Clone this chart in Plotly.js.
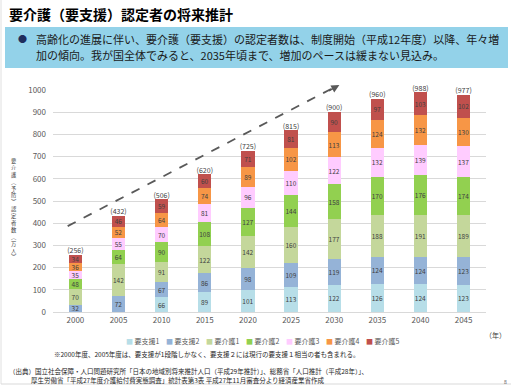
<!DOCTYPE html>
<html>
<head>
<meta charset="utf-8">
<script src="https://cdn.plot.ly/plotly-3.0.1.min.js"></script>
<style>html,body{margin:0;padding:0;background:#fff;}#chart{width:512px;height:386px;}</style>
</head>
<body>
<div id="chart"></div>
<script>
// ---- data ----
const years = [2000, 2005, 2010, 2015, 2020, 2025, 2030, 2035, 2040, 2045];
const seriesNames = ["要支援1", "要支援2", "要介護1", "要介護2", "要介護3", "要介護4", "要介護5"];
const shien1  = [null, null, 66, 89, 101, 113, 122, 126, 124, 123];
const shien2  = [32, 72, 67, 86, 98, 109, 119, 124, 124, 123];
const kaigo1  = [70, 142, 91, 122, 142, 160, 177, 188, 191, 189];
const kaigo2  = [48, 64, 90, 108, 127, 144, 158, 170, 176, 174];
const kaigo3  = [35, 55, 70, 81, 96, 110, 122, 132, 139, 137];
const kaigo4  = [36, 52, 64, 74, 89, 102, 113, 124, 132, 130];
const kaigo5  = [34, 46, 59, 60, 71, 81, 90, 97, 103, 102];
const totals  = [256, 432, 506, 620, 725, 815, 900, 960, 988, 977];
const seriesValues = [shien1, shien2, kaigo1, kaigo2, kaigo3, kaigo4, kaigo5];
const colors = ["#b7dee8", "#95b3d7", "#c4d79b", "#92d050", "#ffccff", "#f79646", "#c0504d"];

const titleText = "要介護（要支援）認定者の将来推計";
const bulletLine1 = "高齢化の進展に伴い、要介護（要支援）の認定者数は、制度開始（平成12年度）以降、年々増";
const bulletLine2 = "加の傾向。我が国全体でみると、2035年頃まで、増加のペースは緩まない見込み。";
const yTitleChars = ["要","介","護","︵","予","防","︶","認","定","者","数","︵","万","人","︶"];
const noteText = "※2000年度、2005年度は、要支援が1段階しかなく、要支援２には現行の要支援１相当の者も含まれる。";
const source1 = "（出典）国立社会保障・人口問題研究所「日本の地域別将来推計人口（平成29年推計）」、総務省「人口推計（平成28年）」、";
const source2 = "厚生労働省「平成27年度介護給付費実態調査」統計表第3表 平成27年11月審査分より経済産業省作成";

// ---- layout helpers ----
const FONT = '"Noto Sans CJK JP", "Noto Sans", sans-serif';
const L = 53, R = 26, T = 90, B = 74, W = 512, H = 386;
const PW = W - L - R, PH = H - T - B;
const px = v => (v - L) / PW;
const py = v => (H - B - v) / PH;

const traces = seriesValues.map((vals, i) => ({
  type: 'bar',
  name: seriesNames[i],
  x: years,
  y: vals,
  width: 1.55,
  marker: {color: colors[i]},
  text: vals.map(v => v == null ? '' : String(v)),
  textposition: 'inside',
  insidetextanchor: 'middle',
  textangle: 0,
  textfont: {size: 6.5, color: '#404040', family: FONT},
  hoverinfo: 'skip',
  showlegend: false
}));

traces.push({
  type: 'scatter',
  mode: 'text',
  x: years,
  y: totals,
  text: totals.map(t => '(' + t + ')'),
  textposition: 'top center',
  textfont: {size: 7, color: '#404040', family: FONT},
  hoverinfo: 'skip',
  showlegend: false,
  cliponaxis: false
});

const annotations = [
  {xref: 'paper', yref: 'paper', x: px(7), y: py(14), xanchor: 'left', yanchor: 'middle',
   text: '<b>' + titleText + '</b>', showarrow: false, font: {size: 14, color: '#000', family: FONT}},
  {xref: 'paper', yref: 'paper', x: px(22), y: py(39), xanchor: 'center', yanchor: 'middle',
   text: '●', showarrow: false, font: {size: 9, color: '#1f2d5c', family: FONT}},
  {xref: 'paper', yref: 'paper', x: px(34), y: py(39), xanchor: 'left', yanchor: 'middle',
   text: bulletLine1, showarrow: false, font: {size: 11, color: '#1a1a1a', family: FONT}},
  {xref: 'paper', yref: 'paper', x: px(34), y: py(55), xanchor: 'left', yanchor: 'middle',
   text: bulletLine2, showarrow: false, font: {size: 11, color: '#1a1a1a', family: FONT}},
  {xref: 'paper', yref: 'paper', x: px(495), y: py(335), xanchor: 'center', yanchor: 'middle',
   text: '（年）', showarrow: false, font: {size: 7, color: '#404040', family: FONT}},
  {xref: 'paper', yref: 'paper', x: px(52), y: py(354), xanchor: 'left', yanchor: 'middle',
   text: noteText, showarrow: false, font: {size: 6.5, color: '#262626', family: FONT}},
  {xref: 'paper', yref: 'paper', x: px(7), y: py(371), xanchor: 'left', yanchor: 'middle',
   text: source1, showarrow: false, font: {size: 6.5, color: '#262626', family: FONT}},
  {xref: 'paper', yref: 'paper', x: px(29), y: py(380), xanchor: 'left', yanchor: 'middle',
   text: source2, showarrow: false, font: {size: 6.5, color: '#262626', family: FONT}},
  {xref: 'paper', yref: 'paper', x: px(505), y: py(381), xanchor: 'center', yanchor: 'middle',
   text: '8', showarrow: false, font: {size: 5, color: '#404040', family: FONT}},
  // vertical y-axis title (upright characters stacked)
  {xref: 'paper', yref: 'paper', x: px(14), y: py(209), xanchor: 'center', yanchor: 'middle',
   text: yTitleChars.join('<br>'), showarrow: false, align: 'center',
   font: {size: 5.3, color: '#404040', family: FONT}},
  // arrow head of the dashed trend line
  {xref: 'x', yref: 'paper', x: 2030.6, y: 1.022, text: '', showarrow: true,
   arrowhead: 2, arrowsize: 1, arrowwidth: 1.6, arrowcolor: '#595959', ax: -12, ay: 6.5}
];

// legend
seriesNames.forEach((n, i) => {
  annotations.push({xref: 'paper', yref: 'paper', x: px(124 + i * 40), y: py(341),
    xanchor: 'left', yanchor: 'middle', showarrow: false,
    text: '<span style="color:' + colors[i] + ';font-size:7px">■</span> ' + n,
    font: {size: 7, color: '#595959', family: FONT}});
});

const shapes = [
  {type: 'rect', xref: 'paper', yref: 'paper', x0: px(5), x1: px(508), y0: py(27), y1: py(68),
   fillcolor: '#93d2e9', line: {width: 0}, layer: 'below'},
  {type: 'line', xref: 'paper', yref: 'paper', x0: px(1), x1: px(1), y0: py(0), y1: py(384),
   line: {color: '#e0e0e0', width: 1}},
  {type: 'line', xref: 'paper', yref: 'paper', x0: px(1), x1: px(511), y0: py(384), y1: py(384),
   line: {color: '#d9d9d9', width: 1}},
  // dashed trend line
  {type: 'line', xref: 'x', yref: 'paper', x0: 1999.1, y0: 0.387, x1: 2030.0, y1: 1.012,
   line: {color: '#595959', width: 1.8, dash: 'dash'}}
];

const layout = {
  width: W, height: H,
  margin: {l: L, r: R, t: T, b: B, pad: 0},
  paper_bgcolor: '#ffffff',
  plot_bgcolor: '#ffffff',
  barmode: 'stack',
  showlegend: false,
  font: {family: FONT, color: '#595959'},
  uniformtext: {minsize: 6.5, mode: 'show'},
  xaxis: {
    type: 'linear', range: [1997.4, 2047.6],
    tickvals: years, ticktext: years.map(String),
    showgrid: false, zeroline: false, showline: true, linecolor: '#d9d9d9', linewidth: 1,
    ticks: '', tickfont: {size: 8, color: '#595959', family: FONT}, fixedrange: true
  },
  yaxis: {
    range: [0, 1000], dtick: 100, tick0: 0,
    showgrid: true, gridcolor: '#d9d9d9', gridwidth: 1, zeroline: false, showline: false,
    ticks: '', ticklabelstandoff: 6, tickfont: {size: 8, color: '#595959', family: FONT}, fixedrange: true
  },
  annotations: annotations,
  shapes: shapes
};

Plotly.newPlot('chart', traces, layout, {displayModeBar: false, staticPlot: true});
</script>
</body>
</html>
